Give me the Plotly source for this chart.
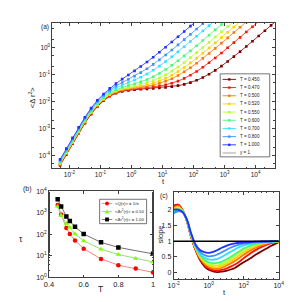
import plotly.graph_objects as go

W, H = 292, 302
FONT = "Liberation Sans, Arial, sans-serif"

# ---------------- data ----------------
temps = ["0.450", "0.470", "0.500", "0.520", "0.550", "0.600", "0.700", "0.800", "1.000"]
colors = ["#7a0000", "#ff1400", "#ff7800", "#ffd000", "#b8ff30", "#48f878",
          "#30e0ff", "#4090ff", "#2030ff"]

# panel (a): log10 t grid and log10 <dr^2> per temperature
log_t_a = [-2.3, -2.1, -1.9, -1.7, -1.5, -1.3, -1.1, -0.9, -0.7, -0.5, -0.3, -0.1,
           0.1, 0.3, 0.5, 0.7, 0.9, 1.1, 1.3, 1.5, 1.7, 1.9, 2.1, 2.3, 2.5, 2.7,
           2.9, 3.1, 3.3, 3.5, 3.7, 3.9, 4.1, 4.3, 4.5, 4.7]
msd_045 = [-4.37, -3.97, -3.57, -3.175, -2.80, -2.465, -2.185, -1.97, -1.80, -1.69, -1.619, -1.582,
           -1.561, -1.544, -1.53, -1.514, -1.496, -1.474, -1.445, -1.408, -1.359, -1.294, -1.21, -1.107,
           -0.984, -0.84, -0.682, -0.512, -0.331, -0.144, 0.047, 0.241, 0.437, 0.635, 0.833, 1.03]
msd_047 = [-4.35, -3.95, -3.55, -3.155, -2.78, -2.445, -2.165, -1.95, -1.78, -1.668, -1.595, -1.557,
           -1.531, -1.509, -1.487, -1.46, -1.424, -1.378, -1.317, -1.238, -1.138, -1.02, -0.88, -0.725,
           -0.556, -0.378, -0.192, -0.002, 0.192, 0.388, 0.585, 0.783, 0.982, 1.18]
msd_050 = [-4.33, -3.93, -3.53, -3.135, -2.76, -2.425, -2.145, -1.93, -1.758, -1.644, -1.569, -1.526,
           -1.495, -1.463, -1.428, -1.382, -1.323, -1.246, -1.149, -1.032, -0.894, -0.741, -0.573, -0.396,
           -0.211, -0.021, 0.172, 0.368, 0.565, 0.763, 0.962, 1.16]
msd_052 = [-4.31, -3.91, -3.51, -3.115, -2.74, -2.405, -2.125, -1.91, -1.736, -1.621, -1.543, -1.496,
           -1.459, -1.419, -1.373, -1.313, -1.236, -1.139, -1.022, -0.884, -0.731, -0.563, -0.386, -0.201,
           -0.011, 0.182, 0.378, 0.575, 0.773, 0.972, 1.17]
msd_055 = [-4.29, -3.89, -3.49, -3.095, -2.72, -2.385, -2.105, -1.887, -1.714, -1.596, -1.514, -1.461,
           -1.414, -1.362, -1.301, -1.222, -1.124, -1.006, -0.867, -0.713, -0.545, -0.367, -0.182, 0.009,
           0.202, 0.398, 0.595, 0.793, 0.992, 1.19]
msd_060 = [-4.26, -3.86, -3.46, -3.065, -2.69, -2.355, -2.075, -1.855, -1.679, -1.557, -1.467, -1.401,
           -1.338, -1.268, -1.182, -1.077, -0.954, -0.81, -0.652, -0.482, -0.301, -0.114, 0.077, 0.271,
           0.467, 0.665, 0.863, 1.06]
msd_070 = [-4.22, -3.82, -3.42, -3.025, -2.65, -2.315, -2.03, -1.81, -1.627, -1.493, -1.384, -1.292,
           -1.20, -1.094, -0.974, -0.834, -0.681, -0.513, -0.336, -0.151, 0.039, 0.233, 0.428, 0.625,
           0.823, 1.022]
msd_080 = [-4.18, -3.78, -3.38, -2.985, -2.61, -2.275, -1.987, -1.763, -1.573, -1.423, -1.291, -1.175,
           -1.054, -0.924, -0.778, -0.618, -0.449, -0.27, -0.083, 0.107, 0.301, 0.497, 0.695, 0.893,
           1.09]
msd_100 = [-4.15, -3.75, -3.35, -2.955, -2.58, -2.245, -1.95, -1.718, -1.511, -1.333, -1.166, -1.01,
           -0.857, -0.696, -0.528, -0.35, -0.167, 0.021, 0.214, 0.409, 0.606, 0.804, 1.003, 1.2]
msd_all = [msd_045, msd_047, msd_050, msd_052, msd_055, msd_060, msd_070, msd_080, msd_100]

# panel (b): relaxation times
T_b = [0.45, 0.47, 0.50, 0.52, 0.55, 0.60, 0.70, 0.80, 0.90, 1.00]
tau_Q = [2240, 810, 195, 102, 51, 21.4, 7.2, 3.7, 2.6, 1.7]
tau_r05 = [1900, 740, 310, 204, 102, 49, 20.4, 11.5, 7.6, 5.2]
T_b1 = [0.45, 0.47, 0.50, 0.52, 0.55, 0.60, 0.70, 0.80, 1.00]
tau_r1 = [4170, 1900, 660, 410, 220, 102, 42, 24.5, 12.3]

# panel (c): log10 t grid and local slope per temperature
log_t_c = [-2.0, -1.75, -1.5, -1.25, -1.0, -0.75, -0.5, -0.25, 0.0, 0.25, 0.5, 0.75, 1.0,
           1.25, 1.5, 1.75, 2.0, 2.25, 2.5, 2.75, 3.0, 3.25, 3.5, 3.75, 4.0]
s_045 = [2.12, 2.16, 2.0, 1.64, 1.12, 0.72, 0.41, 0.21, 0.09, 0.04, 0.02, 0.03, 0.06, 0.1, 0.15,
         0.24, 0.33, 0.41, 0.5, 0.59, 0.67, 0.75, 0.83, 0.9, 0.96]
s_047 = [2.1, 2.15, 1.99, 1.65, 1.13, 0.74, 0.44, 0.25, 0.13, 0.08, 0.07, 0.09, 0.13, 0.19, 0.26,
         0.35, 0.46, 0.56, 0.66, 0.74, 0.81, 0.87, 0.92, 0.96, 0.98]
s_050 = [2.06, 2.12, 1.98, 1.66, 1.15, 0.76, 0.47, 0.29, 0.18, 0.13, 0.12, 0.16, 0.22, 0.29, 0.37,
         0.47, 0.57, 0.66, 0.74, 0.81, 0.87, 0.91, 0.95, 0.97, 0.99]
s_052 = [2.02, 2.09, 1.97, 1.67, 1.16, 0.78, 0.5, 0.33, 0.23, 0.18, 0.17, 0.21, 0.28, 0.36, 0.45,
         0.55, 0.65, 0.73, 0.8, 0.86, 0.91, 0.94, 0.97, 0.98, 0.99]
s_055 = [1.98, 2.06, 1.96, 1.67, 1.17, 0.8, 0.53, 0.37, 0.28, 0.24, 0.23, 0.27, 0.35, 0.43, 0.53,
         0.63, 0.72, 0.79, 0.85, 0.9, 0.94, 0.96, 0.98, 0.99, 1.0]
s_060 = [1.93, 2.02, 1.95, 1.68, 1.18, 0.82, 0.56, 0.41, 0.33, 0.3, 0.31, 0.35, 0.42, 0.5, 0.59,
         0.68, 0.77, 0.83, 0.88, 0.92, 0.95, 0.97, 0.98, 0.99, 1.0]
s_070 = [1.88, 1.97, 1.93, 1.68, 1.2, 0.84, 0.6, 0.48, 0.42, 0.41, 0.44, 0.5, 0.58, 0.66, 0.74,
         0.81, 0.86, 0.9, 0.93, 0.95, 0.97, 0.98, 0.99, 0.99, 1.0]
s_080 = [1.9, 1.95, 1.92, 1.68, 1.22, 0.87, 0.66, 0.56, 0.52, 0.53, 0.58, 0.65, 0.72, 0.79, 0.85,
         0.89, 0.92, 0.94, 0.96, 0.97, 0.98, 0.99, 0.99, 1.0, 1.0]
s_100 = [2.0, 2.0, 1.93, 1.7, 1.25, 0.9, 0.72, 0.65, 0.63, 0.66, 0.72, 0.79, 0.85, 0.9, 0.93,
         0.95, 0.96, 0.97, 0.98, 0.985, 0.99, 0.99, 0.995, 1.0, 1.0]
slope_all = [s_045, s_047, s_050, s_052, s_055, s_060, s_070, s_080, s_100]

# tick labels
ticks_a_x = [-2, -1, 0, 1, 2, 3, 4]
ticks_a_y = [-4, -3, -2, -1, 0]
ticks_b_y = [0, 1, 2, 3, 4]
ticks_c_x = [-2, 0, 2, 4]
ticks_b_x = [0.4, 0.6, 0.8, 1.0]
ticks_b_x_text = ["0.4", "0.6", "0.8", "1"]
ticks_c_y = [0, 0.5, 1, 1.5, 2]
ticks_c_y_text = ["0", "0.5", "1", "1.5", "2"]


def pow_label(p):
    return "10<sup>%d</sup>" % p


def px(x):
    return x / W


def py(y):
    return 1 - y / H


fig = go.Figure()

# ---------------- panel (a) ----------------
for name, col, m in zip(temps, colors, msd_all):
    xs = [10 ** v for v in log_t_a[:len(m)]]
    ys = [10 ** v for v in m]
    fig.add_trace(go.Scatter(x=xs, y=ys, mode="lines+markers", name="T = " + name,
                             line=dict(color=col, width=0.8),
                             marker=dict(color=col, size=2.6, symbol="square"),
                             xaxis="x", yaxis="y", showlegend=False))

# ---------------- panel (b) ----------------
fig.add_trace(go.Scatter(x=T_b, y=tau_Q, mode="lines+markers", xaxis="x2", yaxis="y2",
                         line=dict(color="#ff8080", width=1),
                         marker=dict(color="#ff0000", size=4.5, symbol="circle"), showlegend=False))
fig.add_trace(go.Scatter(x=T_b, y=tau_r05, mode="lines+markers", xaxis="x2", yaxis="y2",
                         line=dict(color="#90e070", width=1),
                         marker=dict(color="#80ff00", size=5, symbol="triangle-up"), showlegend=False))
fig.add_trace(go.Scatter(x=T_b1, y=tau_r1, mode="lines+markers", xaxis="x2", yaxis="y2",
                         line=dict(color="#707070", width=1),
                         marker=dict(color="#000000", size=4.5, symbol="square"), showlegend=False))

# ---------------- panel (c) ----------------
for name, col, s in zip(temps, colors, slope_all):
    xs = [10 ** v for v in log_t_c]
    fig.add_trace(go.Scatter(x=xs, y=s, mode="lines", line=dict(color=col, width=1.8, shape="spline"),
                             xaxis="x3", yaxis="y3", showlegend=False))

axcommon = dict(showline=True, linecolor="#404040", linewidth=0.8, mirror="allticks",
                ticks="inside", ticklen=3, tickcolor="#404040", tickwidth=0.6,
                showgrid=False, zeroline=False, tickfont=dict(family=FONT, size=6.5, color="#222"))

fig.update_layout(
    width=W, height=H, margin=dict(l=0, r=0, t=0, b=0), autosize=False,
    paper_bgcolor="white", plot_bgcolor="white", showlegend=False,
    font=dict(family=FONT, color="#222"),
    xaxis=dict(axcommon, type="log", range=[-2.55, 4.62], domain=[px(40), px(272)], anchor="y",
               tickvals=[10 ** p for p in ticks_a_x], ticktext=[pow_label(p) for p in ticks_a_x],
               minor=dict(ticks="inside", ticklen=1.5, tickcolor="#404040")),
    yaxis=dict(axcommon, type="log", range=[-4.48, 0.93], domain=[py(160), py(11)], anchor="x",
               tickvals=[10 ** p for p in ticks_a_y], ticktext=[pow_label(p) for p in ticks_a_y],
               minor=dict(ticks="inside", ticklen=1.5, tickcolor="#404040")),
    xaxis2=dict(axcommon, range=[0.4, 1.0], domain=[px(36.5), px(145)], anchor="y2",
                tickvals=ticks_b_x, ticktext=ticks_b_x_text,
                tickfont=dict(family=FONT, size=7.5, color="#222")),
    yaxis2=dict(axcommon, type="log", range=[0, 4], domain=[py(271.7), py(183.3)], anchor="x2",
                tickvals=[10 ** p for p in ticks_b_y], ticktext=[pow_label(p) for p in ticks_b_y],
                tickfont=dict(family=FONT, size=7, color="#222"),
                minor=dict(ticks="inside", ticklen=1.5, tickcolor="#404040")),
    xaxis3=dict(axcommon, type="log", range=[-2, 4], domain=[px(166.5), px(276)], anchor="y3",
                tickvals=[10 ** p for p in ticks_c_x], ticktext=[pow_label(p) for p in ticks_c_x],
                tickfont=dict(family=FONT, size=7, color="#222"),
                minor=dict(ticks="inside", ticklen=1.5, tickcolor="#404040")),
    yaxis3=dict(axcommon, range=[-0.2, 2.57], domain=[py(273.3), py(184)], anchor="x3",
                tickvals=ticks_c_y, ticktext=ticks_c_y_text,
                tickfont=dict(family=FONT, size=7, color="#222")),
)

shapes = []
# y = 1 reference line in (a) (log-axis shapes use log10 coords)
shapes.append(dict(type="line", xref="x domain", x0=0, x1=1, yref="y", y0=0, y1=0,
                   line=dict(color="#c4c4c4", width=2.2), layer="below"))
# slope = 1 line in (c)
shapes.append(dict(type="line", xref="x3 domain", x0=0, x1=1, yref="y3", y0=1, y1=1,
                   line=dict(color="#000000", width=1.6), layer="above"))

annotations = []
# legend (a)
shapes.append(dict(type="rect", xref="paper", yref="paper", x0=px(215), x1=px(266.7),
                   y0=py(148.3), y1=py(63.3), line=dict(color="#505050", width=0.8),
                   fillcolor="white", layer="above"))
leg_names = ["T = " + t for t in temps] + ["y = 1"]
leg_cols = colors + ["#9a9a9a"]
for i, (nm, col) in enumerate(zip(leg_names, leg_cols)):
    yc = 69 + 8.37 * i
    shapes.append(dict(type="line", xref="paper", yref="paper", x0=px(217.5), x1=px(231.5),
                       y0=py(yc), y1=py(yc), line=dict(color=col, width=0.9), layer="above"))
    if i < 9:
        shapes.append(dict(type="rect", xref="paper", yref="paper", x0=px(223.3), x1=px(225.7),
                           y0=py(yc + 1.2), y1=py(yc - 1.2), line=dict(width=0),
                           fillcolor=col, layer="above"))
    annotations.append(dict(xref="paper", yref="paper", x=px(234), y=py(yc), text=nm,
                            showarrow=False, xanchor="left", yanchor="middle",
                            font=dict(family=FONT, size=4.6, color="#222")))

# legend (b)
shapes.append(dict(type="rect", xref="paper", yref="paper", x0=px(89.3), x1=px(138.3),
                   y0=py(216.7), y1=py(191.7), line=dict(color="#505050", width=0.8),
                   fillcolor="white", layer="above"))
leg_b = [("&lt;Q(τ)&gt; = 1/e", "#ff8080", "#ff0000", "circle"),
         ("&lt;Δr<sup>2</sup>(τ)&gt; = 0.50", "#90e070", "#80ff00", "tri"),
         ("&lt;Δr<sup>2</sup>(τ)&gt; = 1.00", "#707070", "#000000", "square")]
for i, (nm, lc, mc, sym) in enumerate(leg_b):
    yc = 196 + 8.2 * i
    xc = 97.0
    shapes.append(dict(type="line", xref="paper", yref="paper", x0=px(91.5), x1=px(102.5),
                       y0=py(yc), y1=py(yc), line=dict(color=lc, width=0.9), layer="above"))
    if sym == "circle":
        shapes.append(dict(type="circle", xref="paper", yref="paper", x0=px(xc - 2), x1=px(xc + 2),
                           y0=py(yc + 2), y1=py(yc - 2), line=dict(width=0), fillcolor=mc, layer="above"))
    elif sym == "square":
        shapes.append(dict(type="rect", xref="paper", yref="paper", x0=px(xc - 2), x1=px(xc + 2),
                           y0=py(yc + 2), y1=py(yc - 2), line=dict(width=0), fillcolor=mc, layer="above"))
    else:
        path = "M %f %f L %f %f L %f %f Z" % (px(xc - 2.3), py(yc + 2), px(xc + 2.3), py(yc + 2),
                                               px(xc), py(yc - 2.3))
        shapes.append(dict(type="path", xref="paper", yref="paper", path=path, line=dict(width=0),
                           fillcolor=mc, layer="above"))
    annotations.append(dict(xref="paper", yref="paper", x=px(103.5), y=py(yc), text=nm,
                            showarrow=False, xanchor="left", yanchor="middle",
                            font=dict(family=FONT, size=4.3, color="#222")))

# panel labels and axis titles
def ann(x, y, text, size, angle=0):
    annotations.append(dict(xref="paper", yref="paper", x=px(x), y=py(y), text=text, showarrow=False,
                            xanchor="center", yanchor="middle", textangle=angle,
                            font=dict(family=FONT, size=size, color="#222")))

ann(32, 15, "(a)", 6.5)
ann(19, 88, "&lt;Δ r<sup>2</sup>&gt;", 7.5, -90)
ann(156, 174, "t", 7.5)
ann(14, 181, "(b)", 7)
ann(7, 232, "τ", 8.5)
ann(90, 284, "T", 8.5)
ann(156, 188, "(c)", 6.5)
ann(153, 228, "slope", 7.5, -90)
ann(220, 287, "t", 7.5)

fig.update_layout(shapes=shapes, annotations=annotations)
fig.write_html("out.html")
